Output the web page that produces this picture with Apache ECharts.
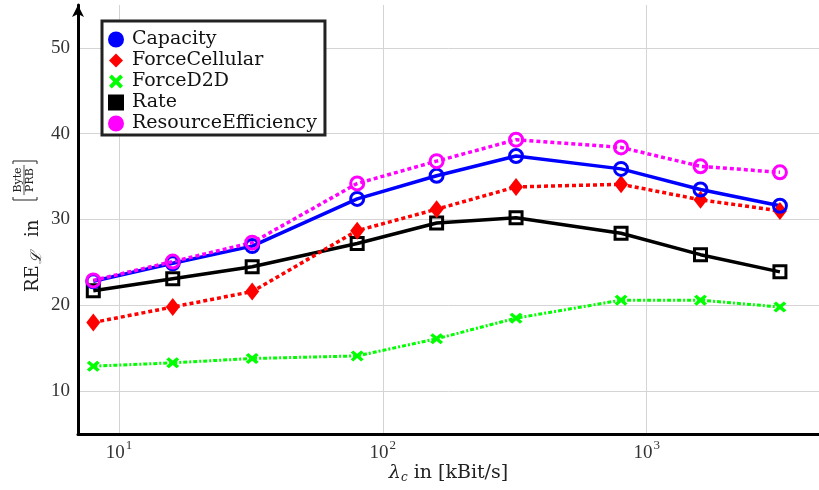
<!DOCTYPE html>
<html>
<head>
<meta charset="utf-8">
<script src="https://cdn.jsdelivr.net/npm/echarts@6/dist/echarts.min.js"></script>
<style>
  html, body { margin: 0; padding: 0; background: #fff; }
  #main { width: 819px; height: 490px; }
</style>
</head>
<body>
<div id="main"></div>
<script>
// data rates in kBit/s (log x axis)
var rates = [8, 16, 32, 80, 160, 320, 800, 1600, 3200];

var capacity = [22.8, 24.9, 26.9, 32.4, 35.1, 37.4, 35.9, 33.5, 31.6];
var forceCellular = [18.0, 19.8, 21.6, 28.7, 31.2, 33.8, 34.1, 32.3, 31.0];
var forceD2D = [12.9, 13.3, 13.8, 14.1, 16.1, 18.5, 20.6, 20.6, 19.8];
var rate = [21.7, 23.1, 24.5, 27.2, 29.6, 30.2, 28.4, 25.9, 23.9];
var resourceEff = [22.9, 25.1, 27.3, 34.2, 36.8, 39.3, 38.4, 36.2, 35.5];

function pairs(ys) {
    return rates.map(function(x, i) { return [x, ys[i]]; });
}

var serif = '"Liberation Serif", "DejaVu Serif", serif';
var wideSerif = '"DejaVu Serif", serif';
var crossPath = 'path://M2,0 L5,3 L8,0 L10,2 L7,5 L10,8 L8,10 L5,7 L2,10 L0,8 L3,5 L0,2 Z';

var myChart = echarts.init(document.getElementById('main'));

var option = {
    animation: false,
    backgroundColor: '#fff',
    grid: { left: 78, right: 0, top: 5, bottom: 56, outerBoundsMode: 'none', containLabel: false },
    legend: {
        orient: 'vertical',
        left: 102,
        top: 21,
        padding: [9, 8, 2, 6],
        itemGap: 2,
        itemWidth: 14,
        itemHeight: 14,
        borderColor: '#222',
        borderWidth: 3,
        backgroundColor: '#fff',
        textStyle: { fontFamily: wideSerif, fontSize: 19, lineHeight: 19, color: '#111', padding: [0, 0, 0, 4] },
        data: [
            { name: 'Capacity', icon: 'circle', itemStyle: { color: '#0000ff' } },
            { name: 'ForceCellular', icon: 'diamond', itemStyle: { color: '#ff0000' } },
            { name: 'ForceD2D', icon: crossPath, itemStyle: { color: '#00ff00' } },
            { name: 'Rate', icon: 'rect', itemStyle: { color: '#000' } },
            { name: 'ResourceEfficiency', icon: 'circle', itemStyle: { color: '#ff00ff' } }
        ]
    },
    xAxis: {
        type: 'log',
        logBase: 10,
        min: 7,
        max: 4500,
        name: '{l|λ}{c|c}{t| in [kBit/s]}',
        nameLocation: 'middle',
        nameGap: 29,
        nameMoveOverlap: false,
        nameTextStyle: {
            rich: {
                l: { fontFamily: wideSerif, fontSize: 19, fontStyle: 'italic', color: '#222' },
                c: { fontFamily: wideSerif, fontSize: 12, fontStyle: 'italic', color: '#222', padding: [9, 0, 0, 0] },
                t: { fontFamily: wideSerif, fontSize: 19, color: '#222' }
            }
        },
        axisLine: { lineStyle: { color: '#000', width: 3 } },
        axisTick: { show: false },
        axisLabel: {
            showMinLabel: false,
            showMaxLabel: false,
            color: '#333',
            margin: 5,
            formatter: function(v) {
                var p = Math.round(Math.log10(v));
                if (Math.abs(Math.log10(v) - p) > 1e-6) return '';
                return '{b|10}{s|' + p + '}';
            },
            rich: {
                b: { fontFamily: serif, fontSize: 19, lineHeight: 24, color: '#333', verticalAlign: 'bottom' },
                s: { fontFamily: serif, fontSize: 13, lineHeight: 24, color: '#333', verticalAlign: 'top', padding: [0, 0, 0, 1] }
            }
        },
        splitLine: { show: true, lineStyle: { color: '#d4d4d4', width: 1 } }
    },
    yAxis: {
        type: 'value',
        min: 5,
        max: 55,
        interval: 5,
        axisLine: { show: true, symbol: ['none', 'arrow'], symbolSize: [9, 12], lineStyle: { color: '#000', width: 3 } },
        axisTick: { show: false },
        axisLabel: {
            fontFamily: serif,
            fontSize: 19,
            color: '#333',
            margin: 8,
            formatter: function(v) {
                return (v % 10 === 0 && v < 55) ? String(v) : '';
            }
        },
        splitLine: { show: true, lineStyle: { color: ['rgba(0,0,0,0)', '#d4d4d4'], width: 1 } }
    },
    graphic: [{
        type: 'group',
        x: 33,
        y: 292,
        rotation: Math.PI / 2,
        children: [
            { type: 'text', x: 0, y: 0, style: { text: 'RE', font: '18px ' + wideSerif, fill: '#222', verticalAlign: 'middle' } },
            { type: 'text', x: 28, y: 4, style: { text: 'ℒ', font: 'italic 15px ' + wideSerif, fill: '#222', verticalAlign: 'middle' } },
            { type: 'text', x: 55, y: 0, style: { text: 'in', font: '18px ' + wideSerif, fill: '#222', verticalAlign: 'middle' } },
            { type: 'polyline', shape: { points: [[95, -20], [92, -20], [92, 4], [95, 4]] }, style: { stroke: '#222', lineWidth: 1, fill: null } },
            { type: 'text', x: 112, y: -15, style: { text: 'Byte', font: '11px ' + wideSerif, fill: '#222', align: 'center', verticalAlign: 'middle' } },
            { type: 'line', shape: { x1: 97, y1: -9, x2: 127, y2: -9 }, style: { stroke: '#222', lineWidth: 0.8 } },
            { type: 'text', x: 112, y: -3, style: { text: 'PRB', font: '11px ' + wideSerif, fill: '#222', align: 'center', verticalAlign: 'middle' } },
            { type: 'polyline', shape: { points: [[128, -20], [131, -20], [131, 4], [128, 4]] }, style: { stroke: '#222', lineWidth: 1, fill: null } }
        ]
    }],
    series: [
        {
            name: 'ForceD2D', type: 'line', data: pairs(forceD2D),
            symbol: crossPath, symbolSize: [13, 11],
            itemStyle: { color: '#00ff00' },
            lineStyle: { color: '#00ff00', width: 3, type: [4, 2, 2, 2] }
        },
        {
            name: 'Rate', type: 'line', data: pairs(rate),
            symbol: 'rect', symbolSize: 12,
            itemStyle: { color: 'rgba(255,255,255,0)', borderColor: '#000', borderWidth: 3 },
            lineStyle: { color: '#000', width: 3.5 }
        },
        {
            name: 'ForceCellular', type: 'line', data: pairs(forceCellular),
            symbol: 'diamond', symbolSize: [14, 18],
            itemStyle: { color: '#ff0000' },
            lineStyle: { color: '#ff0000', width: 3.5, type: [4, 3] }
        },
        {
            name: 'Capacity', type: 'line', data: pairs(capacity),
            symbol: 'circle', symbolSize: 13,
            itemStyle: { color: 'rgba(255,255,255,0)', borderColor: '#0000ff', borderWidth: 3 },
            lineStyle: { color: '#0000ff', width: 3.5 }
        },
        {
            name: 'ResourceEfficiency', type: 'line', data: pairs(resourceEff),
            symbol: 'circle', symbolSize: 13,
            itemStyle: { color: 'rgba(255,255,255,0)', borderColor: '#ff00ff', borderWidth: 3 },
            lineStyle: { color: '#ff00ff', width: 3.5, type: [4, 3] }
        }
    ]
};

myChart.setOption(option);
</script>
</body>
</html>
